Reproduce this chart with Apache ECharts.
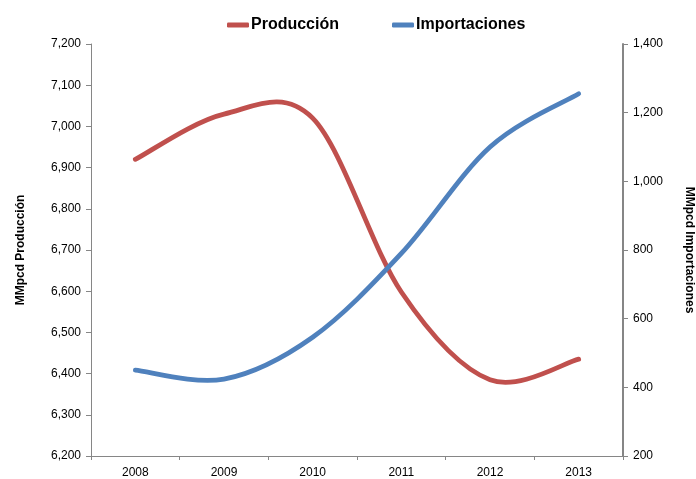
<!DOCTYPE html>
<html>
<head>
<meta charset="utf-8">
<script src="https://cdn.jsdelivr.net/npm/echarts@6/dist/echarts.min.js"></script>
<style>html,body{margin:0;padding:0;background:#fff}#c{width:696px;height:479px}</style>
</head>
<body>
<div id="c"></div>
<script>
const categories = ['2008','2009','2010','2011','2012','2013'];
const produccion = [6920, 7030, 7020, 6598, 6385, 6435];
const importaciones = [450, 424, 546, 790, 1100, 1255];
const leftTicks = [6200, 7200, 100];
const rightTicks = [200, 1400, 200];

const FONT = '"Liberation Sans", Arial, sans-serif';
const axisGray = '#868686';
const RED = '#C0504D', BLUE = '#4F81BD';
const chart = echarts.init(document.getElementById('c'), null, {renderer: 'canvas'});
const fmt = v => v.toLocaleString('en-US');

// Catmull-Rom (Excel-like) smoothed line drawn via custom series; points come from api.coord
function splineRender(color) {
  return function (params, api) {
    if (params.dataIndexInside !== 0) return null;
    const n = params.dataInsideLength;
    const pts = [];
    for (let i = 0; i < n; i++) pts.push(api.coord([api.value(0, i), api.value(1, i)]));
    let d = 'M' + pts[0][0] + ' ' + pts[0][1];
    for (let i = 0; i < n - 1; i++) {
      const p0 = pts[Math.max(0, i - 1)], p1 = pts[i], p2 = pts[i + 1], p3 = pts[Math.min(n - 1, i + 2)];
      const c1x = p1[0] + (p2[0] - p0[0]) / 6, c1y = p1[1] + (p2[1] - p0[1]) / 6;
      const c2x = p2[0] - (p3[0] - p1[0]) / 6, c2y = p2[1] - (p3[1] - p1[1]) / 6;
      d += ' C' + c1x + ' ' + c1y + ' ' + c2x + ' ' + c2y + ' ' + p2[0] + ' ' + p2[1];
    }
    return {
      type: 'path', shape: {pathData: d},
      style: {fill: null, stroke: color, lineWidth: 4.8, lineCap: 'round', lineJoin: 'round'}
    };
  };
}

chart.setOption({
  animation: false,
  backgroundColor: '#fff',
  textStyle: {fontFamily: FONT},
  legend: {
    top: 12, left: 222, itemWidth: 22, itemHeight: 5, itemGap: 53,
    textStyle: {fontFamily: FONT, fontSize: 16, fontWeight: 'bold', color: '#000', padding: [0, 0, 0, -3]},
    data: [
      {name: 'Producción', icon: 'roundRect', itemStyle: {color: RED}},
      {name: 'Importaciones', icon: 'roundRect', itemStyle: {color: BLUE}}
    ]
  },
  grid: {left: 91, right: 73, top: 44, bottom: 23, containLabel: false, outerBoundsMode: 'none'},
  xAxis: {
    type: 'category', data: categories, boundaryGap: true,
    axisLine: {lineStyle: {color: axisGray, width: 1}},
    axisTick: {show: true, alignWithLabel: false, length: 4, lineStyle: {color: axisGray}},
    axisLabel: {color: '#000', fontSize: 12, fontFamily: FONT, margin: 11}
  },
  yAxis: [
    {
      type: 'value', min: leftTicks[0], max: leftTicks[1], interval: leftTicks[2],
      name: 'MMpcd Producción', nameLocation: 'middle', nameGap: 64, nameRotate: 90,
      nameTextStyle: {fontFamily: FONT, fontSize: 12, fontWeight: 'bold', color: '#000'},
      axisLine: {show: true, lineStyle: {color: axisGray, width: 1}},
      axisTick: {show: true, length: 5, lineStyle: {color: axisGray}},
      splitLine: {show: false},
      axisLabel: {color: '#000', fontSize: 12, fontFamily: FONT, margin: 10, formatter: fmt}
    },
    {
      type: 'value', min: rightTicks[0], max: rightTicks[1], interval: rightTicks[2],
      position: 'right',
      name: 'MMpcd Importaciones', nameLocation: 'middle', nameGap: 60, nameRotate: -90,
      nameTextStyle: {fontFamily: FONT, fontSize: 12, fontWeight: 'bold', color: '#000'},
      axisLine: {show: true, lineStyle: {color: axisGray, width: 2}},
      axisTick: {show: true, length: 5, lineStyle: {color: axisGray}},
      splitLine: {show: false},
      axisLabel: {color: '#000', fontSize: 12, fontFamily: FONT, margin: 10, formatter: fmt}
    }
  ],
  series: [
    {
      name: 'Producción', type: 'custom', yAxisIndex: 0, color: RED,
      data: produccion.map((v, i) => [i, v]),
      encode: {x: 0, y: 1},
      renderItem: splineRender(RED)
    },
    {
      name: 'Importaciones', type: 'custom', yAxisIndex: 1, color: BLUE,
      data: importaciones.map((v, i) => [i, v]),
      encode: {x: 0, y: 1},
      renderItem: splineRender(BLUE)
    }
  ]
});
</script>
</body>
</html>
